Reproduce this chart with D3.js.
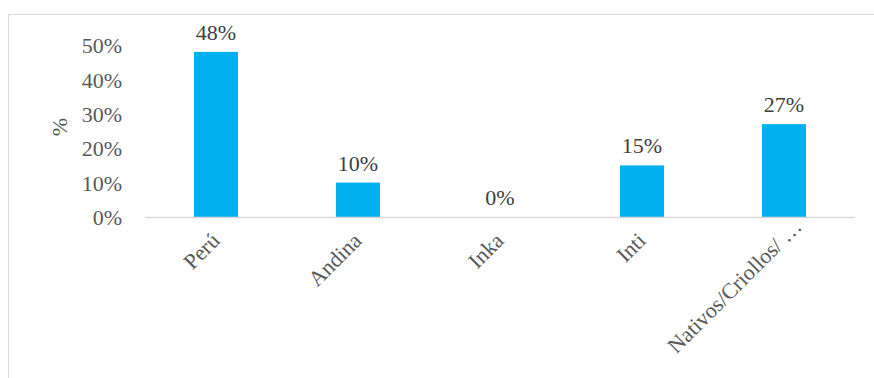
<!DOCTYPE html>
<html>
<head>
<meta charset="utf-8">
<script src="https://cdn.jsdelivr.net/npm/d3@7"></script>
<style>
  body { margin: 0; background: #fff; }
  svg text { font-family: "Liberation Serif", "Times New Roman", serif; fill: #595959; }
</style>
</head>
<body>
<div id="figure"></div>
<script>
'use strict';

const categories = ['Perú', 'Andina', 'Inka', 'Inti', 'Nativos/Criollos/ …'];
const values = [0.48, 0.10, 0.00, 0.15, 0.27];
const valueLabels = ['48%', '10%', '0%', '15%', '27%'];
const yTicks = [0, 0.1, 0.2, 0.3, 0.4, 0.5];

const width = 874;
const height = 378;
const plot = { left: 145, right: 855, top: 45, bottom: 217 };
const fontSize = '22px';

const svg = d3.select('div#figure')
  .append('svg')
  .attr('width', width)
  .attr('height', height);

// chart frame
svg.append('rect')
  .attr('x', 8.5)
  .attr('y', 14.5)
  .attr('width', 900)
  .attr('height', 400)
  .attr('fill', 'none')
  .attr('stroke', '#d9d9d9');

const x = d3.scaleBand()
  .domain(categories)
  .range([plot.left, plot.right])
  .paddingInner(0.69)
  .paddingOuter(0.345);

const y = d3.scaleLinear()
  .domain([0, 0.5])
  .range([plot.bottom, plot.top]);

// y axis labels
const yAxis = svg.append('g')
  .attr('transform', `translate(122, 0)`)
  .call(d3.axisLeft(y).tickValues(yTicks).tickFormat(d3.format('.0%')).tickSize(0).tickPadding(0));
yAxis.select('.domain').remove();
yAxis.selectAll('text')
  .style('font-size', fontSize)
  .attr('dy', '0.35em');

svg.append('text')
  .attr('transform', 'translate(67, 127) rotate(-90)')
  .attr('text-anchor', 'middle')
  .style('font-size', fontSize)
  .text('%');

// bars
svg.append('g')
  .selectAll('rect')
  .data(values)
  .join('rect')
  .attr('x', (d, i) => x(categories[i]))
  .attr('y', d => y(d))
  .attr('width', x.bandwidth())
  .attr('height', d => y(0) - y(d))
  .attr('fill', '#00b0f0');

// baseline
svg.append('line')
  .attr('x1', plot.left)
  .attr('x2', plot.right)
  .attr('y1', y(0) + 0.5)
  .attr('y2', y(0) + 0.5)
  .attr('stroke', '#d9d9d9')
  .attr('stroke-width', 1.5);

// value labels
svg.append('g')
  .selectAll('text')
  .data(values)
  .join('text')
  .attr('x', (d, i) => x(categories[i]) + x.bandwidth() / 2)
  .attr('y', d => y(d) - 12)
  .attr('text-anchor', 'middle')
  .style('font-size', fontSize)
  .style('fill', '#404040')
  .text((d, i) => valueLabels[i]);

// category labels (truncated one sits a bit further out, as Excel does)
const xAxis = svg.append('g')
  .attr('transform', `translate(0, ${plot.bottom})`)
  .call(d3.axisBottom(x).tickSize(0).tickPadding(0));
xAxis.select('.domain').remove();
xAxis.selectAll('text')
  .attr('text-anchor', 'end')
  .attr('dy', 0)
  .attr('dx', d => d.endsWith('…') ? 20 : 0)
  .attr('transform', 'translate(5, 25) rotate(-45)')
  .style('font-size', fontSize);
</script>
</body>
</html>
